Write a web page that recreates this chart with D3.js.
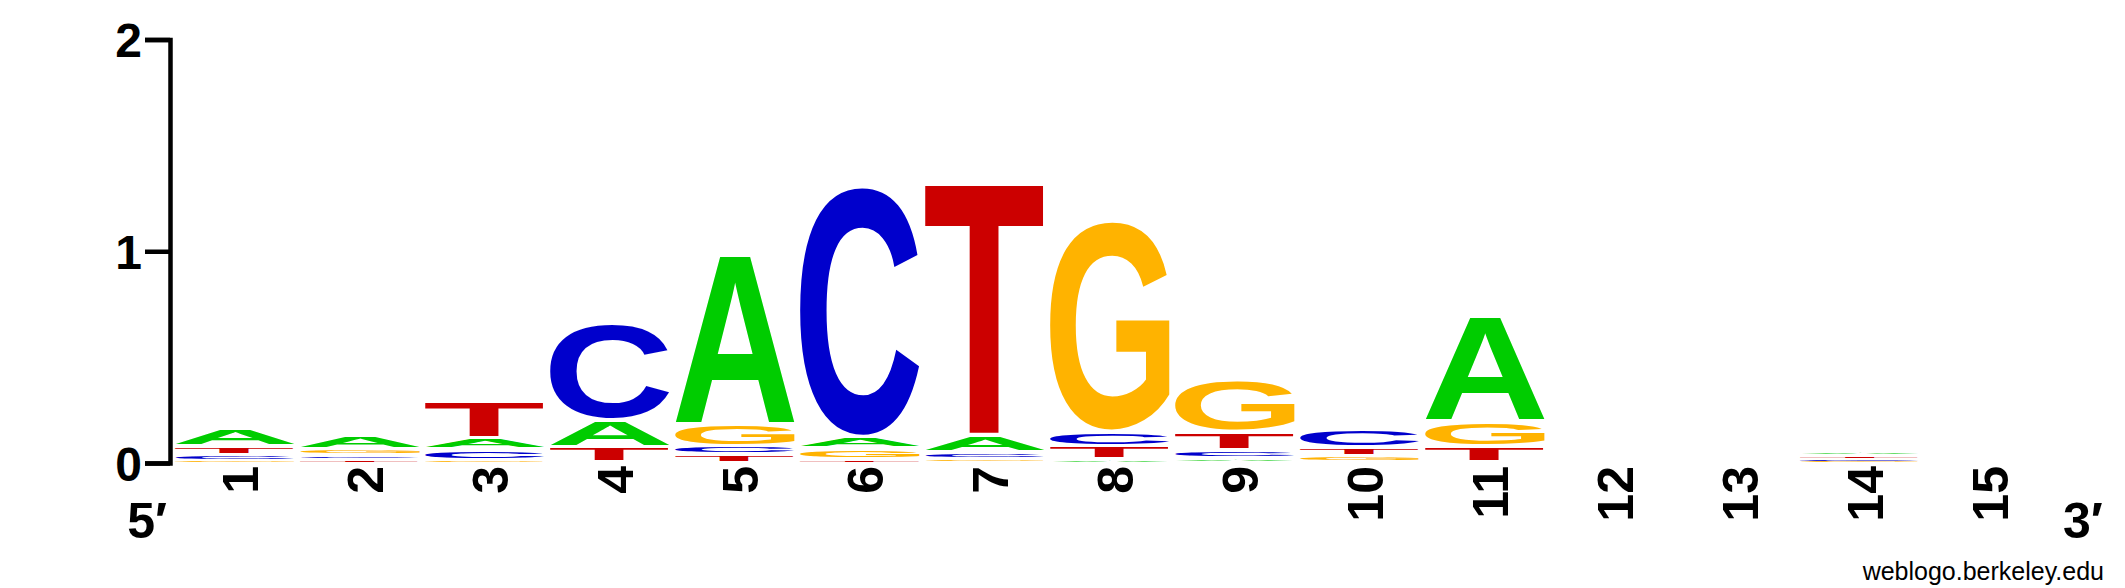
<!DOCTYPE html>
<html>
<head>
<meta charset="utf-8">
<script src="https://cdn.jsdelivr.net/npm/d3@7"></script>
<style>
  body { margin: 0; background: #fff; }
  svg { display: block; }
</style>
</head>
<body>
<div id="logo"></div>
<script>
// sequence logo data, information content (bits) per base and position
const positions = [1, 2, 3, 4, 5, 6, 7, 8, 9, 10, 11, 12, 13, 14, 15];
const bases = ['A', 'C', 'G', 'T'];
const bitsA = [0.085, 0.070, 0.054, 0.127, 0.810, 0.054, 0.082, 0.017, 0.024, 0.005, 0.505, 0, 0, 0.025, 0];
const bitsC = [0.030, 0.019, 0.052, 0.458, 0.041, 1.185, 0.030, 0.068, 0.038, 0.085, 0.005, 0, 0, 0.010, 0];
const bitsG = [0.009, 0.031, 0.014, 0.005, 0.104, 0.051, 0.021, 0.998, 0.246, 0.028, 0.117, 0, 0, 0.008, 0];
const bitsT = [0.043, 0.017, 0.179, 0.071, 0.040, 0.019, 1.205, 0.064, 0.085, 0.043, 0.074, 0, 0, 0.016, 0];
const yTicks = [0, 1, 2];

const baseColors = { A: '#00cc00', C: '#0000cc', G: '#ffb300', T: '#cc0000' };
const fontFamily = "'Liberation Sans', Arial, Helvetica, sans-serif";

const width = 2125;
const height = 588;

const svg = d3.select('#logo')
  .append('svg')
  .attr('width', width)
  .attr('height', height);

svg.append('rect')
  .attr('width', width)
  .attr('height', height)
  .attr('fill', '#fff');

const x = d3.scaleBand()
  .domain(positions)
  .range([172.5, 2047.5])
  .paddingInner(0.04)
  .paddingOuter(0.02);

const y = d3.scaleLinear()
  .domain([0, 2])
  .range([463, 39.5]);

// measure the ink box of each letter so it can be stretched into its cell
const ctx = document.createElement('canvas').getContext('2d');
ctx.font = `bold 100px ${fontFamily}`;
const ink = {};
bases.forEach(b => {
  const m = ctx.measureText(b);
  ink[b] = {
    left: -m.actualBoundingBoxLeft,
    right: m.actualBoundingBoxRight,
    top: -m.actualBoundingBoxAscent,
    bottom: m.actualBoundingBoxDescent
  };
});

const series = { A: bitsA, C: bitsC, G: bitsG, T: bitsT };

// smallest letter at the bottom of each stack
const stacks = positions.map((p, i) => {
  const letters = bases
    .map(b => ({ base: b, bits: series[b][i], pos: p }))
    .filter(d => d.bits > 0)
    .sort((a, b) => a.bits - b.bits);
  let acc = 0;
  letters.forEach(d => {
    d.y0 = acc;
    acc += d.bits;
    d.y1 = acc;
  });
  return letters;
});

svg.append('g')
  .selectAll('g')
  .data(stacks)
  .join('g')
  .selectAll('text')
  .data(d => d)
  .join('text')
  .attr('font-family', fontFamily)
  .attr('font-weight', 'bold')
  .attr('font-size', 100)
  .attr('fill', d => baseColors[d.base])
  .attr('transform', d => {
    const bottom = y(d.y0);
    const top = y(d.y1);
    const h = bottom - top;
    const pad = Math.min(2, h * 0.35);
    const g = ink[d.base];
    const sx = x.bandwidth() / (g.right - g.left);
    const sy = (h - 2 * pad) / (g.bottom - g.top);
    return `translate(${x(d.pos)},${top + pad}) scale(${sx},${sy}) translate(${-g.left},${-g.top})`;
  })
  .text(d => d.base);

// y axis, bracket shaped
const yAxis = d3.axisLeft(y)
  .tickValues(yTicks)
  .tickFormat(d3.format('d'))
  .tickSizeInner(25)
  .tickSizeOuter(25)
  .tickPadding(3);

const gy = svg.append('g')
  .attr('transform', 'translate(170,0)')
  .call(yAxis)
  .attr('font-family', fontFamily)
  .attr('font-size', 48)
  .attr('font-weight', 'bold');

gy.select('.domain')
  .attr('stroke', '#000')
  .attr('stroke-width', 4.5)
  .attr('stroke-linejoin', 'miter');
gy.selectAll('.tick line')
  .attr('stroke', '#000')
  .attr('stroke-width', 4.5);
gy.selectAll('.tick text')
  .attr('fill', '#000')
  .attr('dy', '0.36em');

// position numbers, rotated
svg.append('g')
  .selectAll('text')
  .data(positions)
  .join('text')
  .attr('transform', p => `translate(${x(p) + x.bandwidth() / 2 + 23},466) rotate(-90)`)
  .attr('text-anchor', 'end')
  .attr('font-family', fontFamily)
  .attr('font-size', 50)
  .attr('font-weight', 'bold')
  .attr('fill', '#000')
  .text(p => p);

svg.append('text')
  .attr('x', 167)
  .attr('y', 538)
  .attr('text-anchor', 'end')
  .attr('font-family', fontFamily)
  .attr('font-size', 50)
  .attr('font-weight', 'bold')
  .text('5\u2032');

svg.append('text')
  .attr('x', 2063)
  .attr('y', 538)
  .attr('font-family', fontFamily)
  .attr('font-size', 50)
  .attr('font-weight', 'bold')
  .text('3\u2032');

svg.append('text')
  .attr('x', 2104)
  .attr('y', 580)
  .attr('text-anchor', 'end')
  .attr('font-family', fontFamily)
  .attr('font-size', 25)
  .attr('fill', '#000')
  .text('weblogo.berkeley.edu');
</script>
</body>
</html>
